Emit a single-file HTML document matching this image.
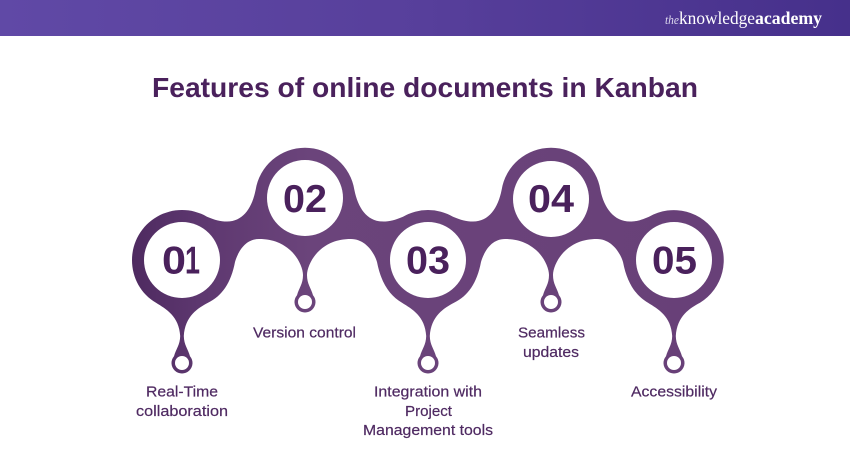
<!DOCTYPE html>
<html><head><meta charset="utf-8"><style>html,body{margin:0;padding:0;background:#fff}svg{display:block}</style></head><body>
<svg xmlns="http://www.w3.org/2000/svg" width="850" height="450" viewBox="0 0 850 450">
<defs>
<linearGradient id="h" x1="0" y1="0" x2="1" y2="0"><stop offset="0" stop-color="#6049a6"/><stop offset=".5" stop-color="#573f9b"/><stop offset="1" stop-color="#46308b"/></linearGradient>
<linearGradient id="g" gradientUnits="userSpaceOnUse" x1="132" y1="260" x2="725" y2="260"><stop offset="0" stop-color="#4e2a60"/><stop offset=".12" stop-color="#5e3870"/><stop offset=".3" stop-color="#6b447b"/><stop offset="1" stop-color="#684078"/></linearGradient>
</defs>
<rect width="850" height="450" fill="#fff"/>
<rect width="850" height="36" fill="url(#h)"/>
<text font-family="'Liberation Serif',serif" fill="#fff" y="24"><tspan x="665" font-size="13" font-style="italic" textLength="14" lengthAdjust="spacingAndGlyphs" fill="#ddd8ee">the</tspan><tspan x="679" font-size="18" textLength="76" lengthAdjust="spacingAndGlyphs">knowledge</tspan><tspan x="755" font-size="18" font-weight="bold" textLength="67" lengthAdjust="spacingAndGlyphs">academy</tspan></text>
<text x="152" y="97" font-family="'Liberation Sans',sans-serif" font-weight="bold" font-size="28" fill="#4a215c" textLength="546" lengthAdjust="spacingAndGlyphs">Features of online documents in Kanban</text>
<path fill="url(#g)" d="M132 260 A50 50 0 0 1 207 216.7 C215 220 220 221.5 227 221.5 C243 221.5 252 208 255.6 190 A50 50 0 0 1 354.4 190 C358 208 367 221.5 383 221.5 C390 221.5 395 220 403 216.7 A50 50 0 0 1 453 216.7 C461 220 466 221.5 473 221.5 C489 221.5 498 208 501.6 190 A50 50 0 0 1 600.4 190 C604 208 614 221.5 630 221.5 C637 221.5 641 220 649 216.7 A50 50 0 0 1 700 302.7
C690 308 677 316 675.8 336 C676 345 680 349 682 356.2 A10.5 10.5 0 1 1 666 356.2 C668 349 672 345 672.2 336 C671 316 658 309 648 302.7
C636 296 627 283 623 262 C620 252 611 239 597 239 C582 239 573 244 566 250 C558 257 553 268 553 275 C553 284 557 288 559 295.2 A10.5 10.5 0 1 1 543 295.2 C545 288 549 284 549 275 C549 268 544 257 536 250 C529 244 520 239 505 239 C491 239 484 252 481 262
C477 283 468 296 454 302.7 C444 308 431 316 429.8 336 C430 345 434 349 436 356.2 A10.5 10.5 0 1 1 420 356.2 C422 349 426 345 426.2 336 C425 316 412 309 402 302.7
C390 296 381 283 377 262 C374 252 365 239 351 239 C336 239 327 244 320 250 C312 257 307 268 307 275 C307 284 311 288 313 295.2 A10.5 10.5 0 1 1 297 295.2 C299 288 303 284 303 275 C303 268 298 257 290 250 C283 244 274 239 259 239 C245 239 238 252 235 262
C231 283 222 296 208 302.7 C198 308 185 316 183.8 336 C184 345 188 349 190 356.2 A10.5 10.5 0 1 1 174 356.2 C176 349 180 345 180.2 336 C179 316 166 309 156 302.7 C141 294 132 278 132 260 Z"/>
<g fill="#fff">
<circle cx="182" cy="260" r="38"/><circle cx="305" cy="198" r="38"/><circle cx="428" cy="260" r="38"/><circle cx="551" cy="199" r="38"/><circle cx="674" cy="260" r="38"/>
<circle cx="182" cy="363" r="7"/><circle cx="305" cy="302" r="7"/><circle cx="428" cy="363" r="7"/><circle cx="551" cy="302" r="7"/><circle cx="674" cy="363" r="7"/>
</g>
<g font-family="'Liberation Sans',sans-serif" font-weight="bold" font-size="39" fill="#4a215c">
<text x="162" y="273.5" textLength="24" lengthAdjust="spacingAndGlyphs">0</text>
<text x="185" y="273.5" textLength="15" lengthAdjust="spacingAndGlyphs">1</text>
<text x="283" y="212" textLength="44" lengthAdjust="spacingAndGlyphs">02</text>
<text x="406" y="273.5" textLength="44" lengthAdjust="spacingAndGlyphs">03</text>
<text x="528" y="212" textLength="46" lengthAdjust="spacingAndGlyphs">04</text>
<text x="652" y="273.5" textLength="45" lengthAdjust="spacingAndGlyphs">05</text>
</g>
<g font-family="'Liberation Sans',sans-serif" font-size="14.5" fill="#4f2a62" stroke="#4f2a62" stroke-width=".2">
<text x="146" y="396.5" textLength="72" lengthAdjust="spacingAndGlyphs">Real-Time</text>
<text x="136" y="416" textLength="92" lengthAdjust="spacingAndGlyphs">collaboration</text>
<text x="253" y="337.5" textLength="103" lengthAdjust="spacingAndGlyphs">Version control</text>
<text x="374" y="396.5" textLength="108" lengthAdjust="spacingAndGlyphs">Integration with</text>
<text x="405" y="416" textLength="47" lengthAdjust="spacingAndGlyphs">Project</text>
<text x="363" y="435" textLength="130" lengthAdjust="spacingAndGlyphs">Management tools</text>
<text x="518" y="337.5" textLength="67" lengthAdjust="spacingAndGlyphs">Seamless</text>
<text x="523" y="357" textLength="56" lengthAdjust="spacingAndGlyphs">updates</text>
<text x="631" y="396.5" textLength="86" lengthAdjust="spacingAndGlyphs">Accessibility</text>
</g>
</svg>
</body></html>
